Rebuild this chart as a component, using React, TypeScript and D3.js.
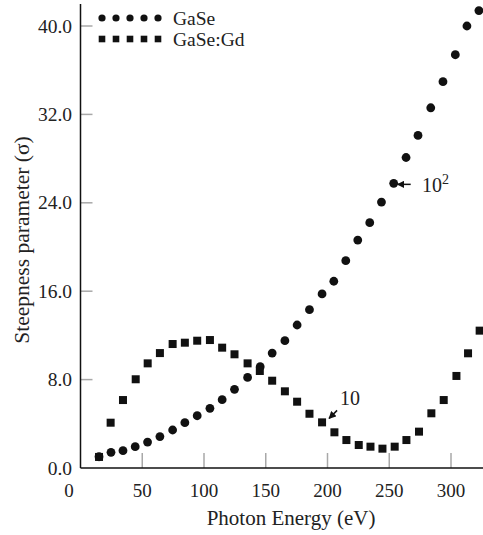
import React from "react";
import * as d3 from "d3";

const gaseX = [15, 24.7, 34.4, 44.3, 54.3, 64.3, 74.6, 84.5, 94.5, 104.8, 114.7, 124.7, 135.3, 145.5, 155.2, 165.5, 175.4, 185.4, 195.6, 205.1, 214.8, 224.5, 234.2, 243.7, 253.6, 263.6, 273.3, 283.6, 293.5, 303.5, 312.9, 322.6];
const gaseY = [1.02, 1.42, 1.57, 1.93, 2.35, 2.84, 3.44, 4.1, 4.73, 5.4, 6.18, 7.12, 8.2, 9.17, 10.4, 11.52, 12.94, 14.33, 15.75, 16.9, 18.76, 20.63, 22.2, 24.07, 25.76, 28.1, 30.1, 32.6, 34.96, 37.4, 40.0, 41.4];
const gdX = [15, 24.4, 34.4, 44.7, 54.4, 64.3, 74.6, 84.5, 94.5, 104.8, 114.7, 124.7, 135.3, 145.2, 155.2, 165.5, 175.4, 185.4, 195.6, 205.6, 215.3, 225.3, 234.8, 244.5, 254.4, 263.9, 274.1, 284.1, 294.1, 304.4, 313.8, 323.2];
const gdY = [1.0, 4.1, 6.15, 8.03, 9.47, 10.4, 11.22, 11.34, 11.52, 11.58, 10.89, 10.29, 9.47, 8.78, 7.9, 6.94, 6.0, 4.91, 4.13, 3.23, 2.53, 2.08, 1.93, 1.75, 1.93, 2.53, 3.29, 4.95, 6.15, 8.33, 10.38, 12.43];
const xTicks = [50, 100, 150, 200, 250, 300];
const yTicks = [0, 8, 16, 24, 32, 40];
const seriesNames = ["GaSe", "GaSe:Gd"];

const W = 483;
const H = 535;
const FONT = "'Liberation Serif', 'Times New Roman', serif";
const TXT = "#222";
const TICK = "#a8a8a8";

export default function App() {
  const x = d3.scaleLinear().domain([0, 300]).range([80.5, 451]);
  const y = d3.scaleLinear().domain([0, 40]).range([468, 26]);
  const x0 = x(0);
  const y0 = y(0);
  const fmt = d3.format(".1f");

  const gase = gaseX.map((v, i) => [v, gaseY[i]]);
  const gd = gdX.map((v, i) => [v, gdY[i]]);
  const sq = 8;

  const a1 = gase[24];
  const a2 = gd[18];

  return (
    <svg width={W} height={H} style={{ position: "absolute", left: 0, top: 0, background: "#fff" }} fontFamily={FONT}>
      <defs>
        <marker id="ah" viewBox="0 0 10 10" refX="9" refY="5" markerWidth="5" markerHeight="5" orient="auto">
          <path d="M0,0 L10,5 L0,10 z" fill="#111" />
        </marker>
      </defs>
      {xTicks.map((t) => (
        <line key={"xt" + t} x1={x(t)} x2={x(t)} y1={y0} y2={y0 - 15} stroke={TICK} strokeWidth={1.5} />
      ))}
      {yTicks.filter((t) => t > 0).map((t) => (
        <line key={"yt" + t} x1={x0} x2={x0 + 12} y1={y(t)} y2={y(t)} stroke={TICK} strokeWidth={1.5} />
      ))}
      <line x1={x0} x2={W} y1={y0} y2={y0} stroke="#111" strokeWidth={1.5} />
      <line x1={x0} x2={x0} y1={y0} y2={4} stroke="#111" strokeWidth={1.5} />
      {xTicks.map((t) => (
        <text key={"xl" + t} x={x(t)} y={497} textAnchor="middle" fontSize={19} fill={TXT}>{t}</text>
      ))}
      <text x={69} y={497} textAnchor="middle" fontSize={19} fill={TXT}>0</text>
      {yTicks.map((t) => (
        <text key={"yl" + t} x={72} y={y(t) + 6.5} textAnchor="end" fontSize={19.5} fill={TXT}>{fmt(t)}</text>
      ))}
      <text x={291} y={525} textAnchor="middle" fontSize={21} fill={TXT}>Photon Energy (eV)</text>
      <text transform="translate(29,240) rotate(-90)" textAnchor="middle" fontSize={21.5} fill={TXT}>Steepness parameter (σ)</text>
      {gase.map((d, i) => (
        <circle key={"c" + i} cx={x(d[0])} cy={y(d[1])} r={4.4} fill="#111" />
      ))}
      {gd.map((d, i) => (
        <rect key={"s" + i} x={x(d[0]) - sq / 2} y={y(d[1]) - sq / 2} width={sq} height={sq} fill="#111" />
      ))}
      {d3.range(5).map((i) => (
        <circle key={"lc" + i} cx={102 + i * 14} cy={18} r={3.6} fill="#111" />
      ))}
      {d3.range(5).map((i) => (
        <rect key={"ls" + i} x={102 + i * 14 - 3.3} y={39 - 3.3} width={6.6} height={6.6} fill="#111" />
      ))}
      <text x={173} y={24.5} fontSize={19.5} fill={TXT}>{seriesNames[0]}</text>
      <text x={173} y={46} fontSize={19.5} fill={TXT}>{seriesNames[1]}</text>
      <line x1={x(a1[0]) + 17} x2={x(a1[0]) + 4} y1={y(a1[1]) + 1} y2={y(a1[1]) + 1} stroke="#111" strokeWidth={1.5} markerEnd="url(#ah)" />
      <text x={422} y={192} fontSize={20} fill={TXT}>10<tspan dy={-8} fontSize={14}>2</tspan></text>
      <line x1={x(a2[0]) + 15} x2={x(a2[0]) + 7} y1={y(a2[1]) - 12} y2={y(a2[1]) - 4} stroke="#111" strokeWidth={1.5} markerEnd="url(#ah)" />
      <text x={340} y={405} fontSize={20} fill={TXT}>10</text>
    </svg>
  );
}
